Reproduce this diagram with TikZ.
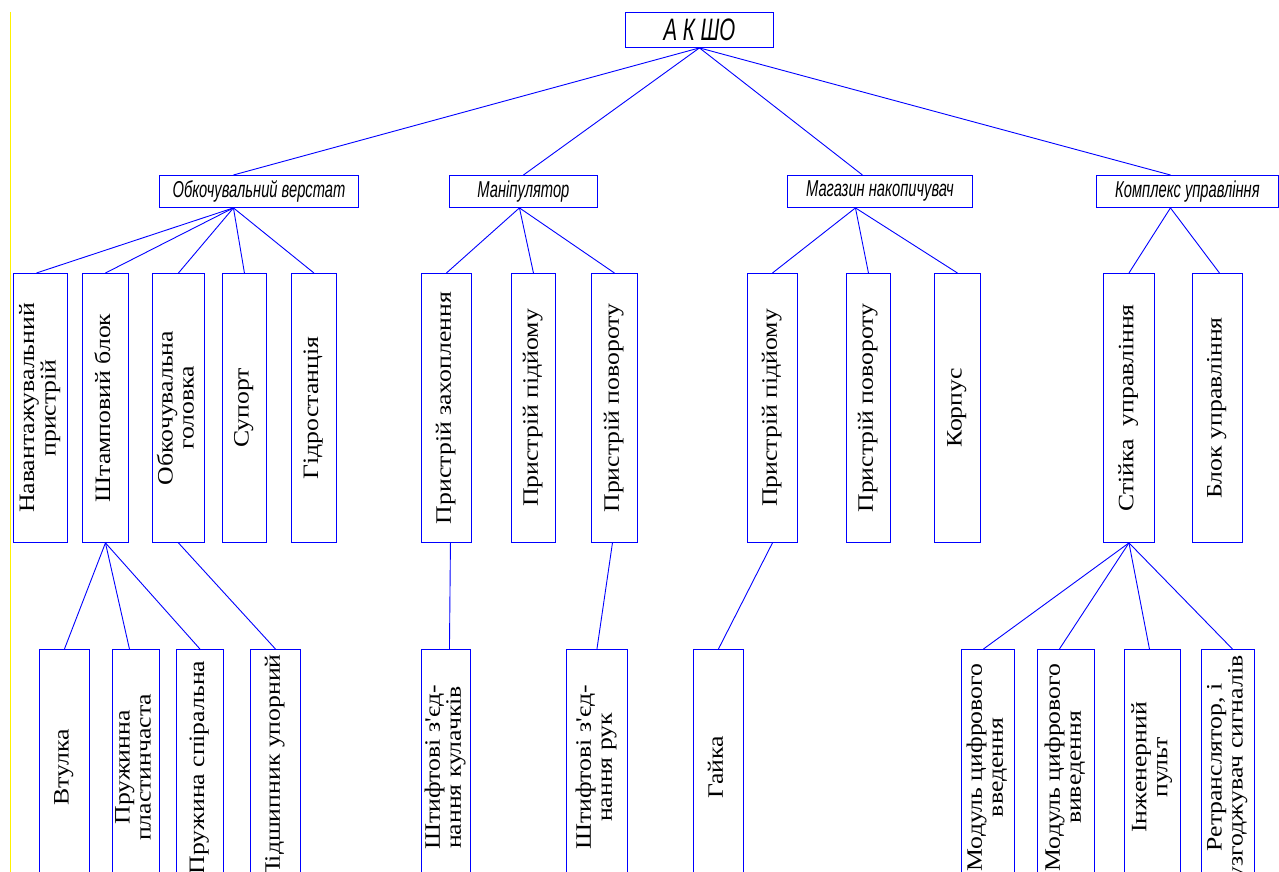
\documentclass[tikz,border=0pt]{standalone}
\usepackage{fontspec}
\setmainfont{Liberation Serif}
\newfontfamily\hsans{Liberation Sans}
\newfontfamily\apf{Liberation Serif}
\usepackage{graphicx}
\newcommand\vtxt[1]{\rotatebox{90}{\scalebox{1.17}[1]{\fontsize{22}{21}\selectfont\begin{tabular}{@{}c@{}}#1\end{tabular}}}}
\newcommand\ltxt[1]{\scalebox{0.64}[1]{\hsans\itshape\fontsize{23}{23}\selectfont #1}}
\newcommand\apos{{\apf '}}
\begin{document}
\begin{tikzpicture}[x=1pt,y=-1pt,
  box/.style={draw=blue, line width=0.9pt, fill=white, inner sep=0pt, anchor=north west},
  conn/.style={draw=blue, line width=0.9pt},
  tall/.style={minimum height=269},
  low/.style={minimum height=236}]
\useasboundingbox (0,0) rectangle (1279,872);
\clip (0,0) rectangle (1279,872);
\fill[white] (0,0) rectangle (1279,872);
\draw[yellow, line width=1.3pt] (10.5,12) -- (10.5,872);

% root
\node[box, minimum width=148, minimum height=35] (R) at (625,12)
  {\scalebox{0.66}[1]{\hsans\itshape\fontsize{31}{31}\selectfont А К ШО}};

% level 2
\node[box, minimum width=199, minimum height=32] (A) at (159,175) {\ltxt{Обкочувальний верстат}};
\node[box, minimum width=148, minimum height=32] (B) at (449,175) {\ltxt{Маніпулятор}};
\node[box, minimum width=185, minimum height=32] (C) at (787,175) {\ltxt{Магазин накопичувач}};
\node[box, minimum width=182, minimum height=32] (D) at (1096,175) {\ltxt{Комплекс управління}};

% level 3
\node[box, tall, minimum width=54] (a1) at (13,273) {\vtxt{Навантажувальний\\пристрій}};
\node[box, tall, minimum width=46] (a2) at (82,273) {\vtxt{Штамповий блок}};
\node[box, tall, minimum width=52] (a3) at (152,273) {\vtxt{Обкочувальна\\головка}};
\node[box, tall, minimum width=44] (a4) at (222,273) {\vtxt{Супорт}};
\node[box, tall, minimum width=45] (a5) at (291,273) {\vtxt{Гідростанція}};
\node[box, tall, minimum width=50] (b1) at (421,273) {\vtxt{Пристрій захоплення}};
\node[box, tall, minimum width=44] (b2) at (511,273) {\vtxt{Пристрій підйому}};
\node[box, tall, minimum width=46] (b3) at (591,273) {\vtxt{Пристрій повороту}};
\node[box, tall, minimum width=50] (c1) at (747,273) {\vtxt{Пристрій підйому}};
\node[box, tall, minimum width=44] (c2) at (846,273) {\vtxt{Пристрій повороту}};
\node[box, tall, minimum width=46] (c3) at (934,273) {\vtxt{Корпус}};
\node[box, tall, minimum width=51] (d1) at (1103,273) {\vtxt{Стійка\ \ управління}};
\node[box, tall, minimum width=50] (d2) at (1192,273) {\vtxt{Блок управління}};

% level 4
\node[box, low, minimum width=50] (e1) at (39,649) {\vtxt{Втулка}};
\node[box, low, minimum width=47] (e2) at (112,649) {\vtxt{Пружинна\\пластинчаста}};
\node[box, low, minimum width=47] (e3) at (176,649) {\vtxt{Пружина спіральна}};
\node[box, low, minimum width=50] (e4) at (250,649) {\vtxt{Підшипник упорний}};
\node[box, low, minimum width=49] (f1) at (421,649) {\vtxt{Штифтові з\apos єд-\\нання кулачків}};
\node[box, low, minimum width=61] (f2) at (566,649) {\vtxt{Штифтові з\apos єд-\\нання рук}};
\node[box, low, minimum width=50] (g1) at (693,649) {\vtxt{Гайка}};
\node[box, low, minimum width=53] (h1) at (961,649) {\vtxt{Модуль цифрового\\введення}};
\node[box, low, minimum width=57] (h2) at (1037,649) {\vtxt{Модуль цифрового\\виведення}};
\node[box, low, minimum width=56] (h3) at (1124,649) {\vtxt{Інженерний\\пульт}};
\node[box, low, minimum width=53] (h4) at (1201,649) {\vtxt{Ретранслятор, і\\узгоджувач сигналів}};

% connectors root -> level 2
\draw[conn] (R.south) -- ([xshift=-25.5]A.north);
\draw[conn] (R.south) -- (B.north);
\draw[conn] (R.south) -- ([xshift=-17.5]C.north);
\draw[conn] (R.south) -- ([xshift=-17]D.north);

% level 2 -> level 3
\draw[conn] ([xshift=-25.5]A.south) -- ([xshift=-4]a1.north);
\draw[conn] ([xshift=-25.5]A.south) -- (a2.north);
\draw[conn] ([xshift=-25.5]A.south) -- (a3.north);
\draw[conn] ([xshift=-25.5]A.south) -- (a4.north);
\draw[conn] ([xshift=-25.5]A.south) -- (a5.north);
\draw[conn] ([xshift=-4]B.south) -- (b1.north);
\draw[conn] ([xshift=-4]B.south) -- (b2.north);
\draw[conn] ([xshift=-4]B.south) -- (b3.north);
\draw[conn] ([xshift=-24.5]C.south) -- (c1.north);
\draw[conn] ([xshift=-24.5]C.south) -- (c2.north);
\draw[conn] ([xshift=-24.5]C.south) -- (c3.north);
\draw[conn] ([xshift=-17]D.south) -- (d1.north);
\draw[conn] ([xshift=-17]D.south) -- ([xshift=2]d2.north);

% level 3 -> level 4
\draw[conn] (a2.south) -- (e1.north);
\draw[conn] (a2.south) -- ([xshift=-6.5]e2.north);
\draw[conn] (a2.south) -- (e3.north);
\draw[conn] (a3.south) -- (e4.north);
\draw[conn] ([xshift=4]b1.south) -- ([xshift=3.5]f1.north);
\draw[conn] ([xshift=-2]b3.south) -- (f2.north);
\draw[conn] (c1.south) -- (g1.north);
\draw[conn] (d1.south) -- ([xshift=-4.5]h1.north);
\draw[conn] (d1.south) -- ([xshift=-6.5]h2.north);
\draw[conn] (d1.south) -- ([xshift=-3]h3.north);
\draw[conn] (d1.south) -- ([xshift=4.5]h4.north);
\end{tikzpicture}
\end{document}
